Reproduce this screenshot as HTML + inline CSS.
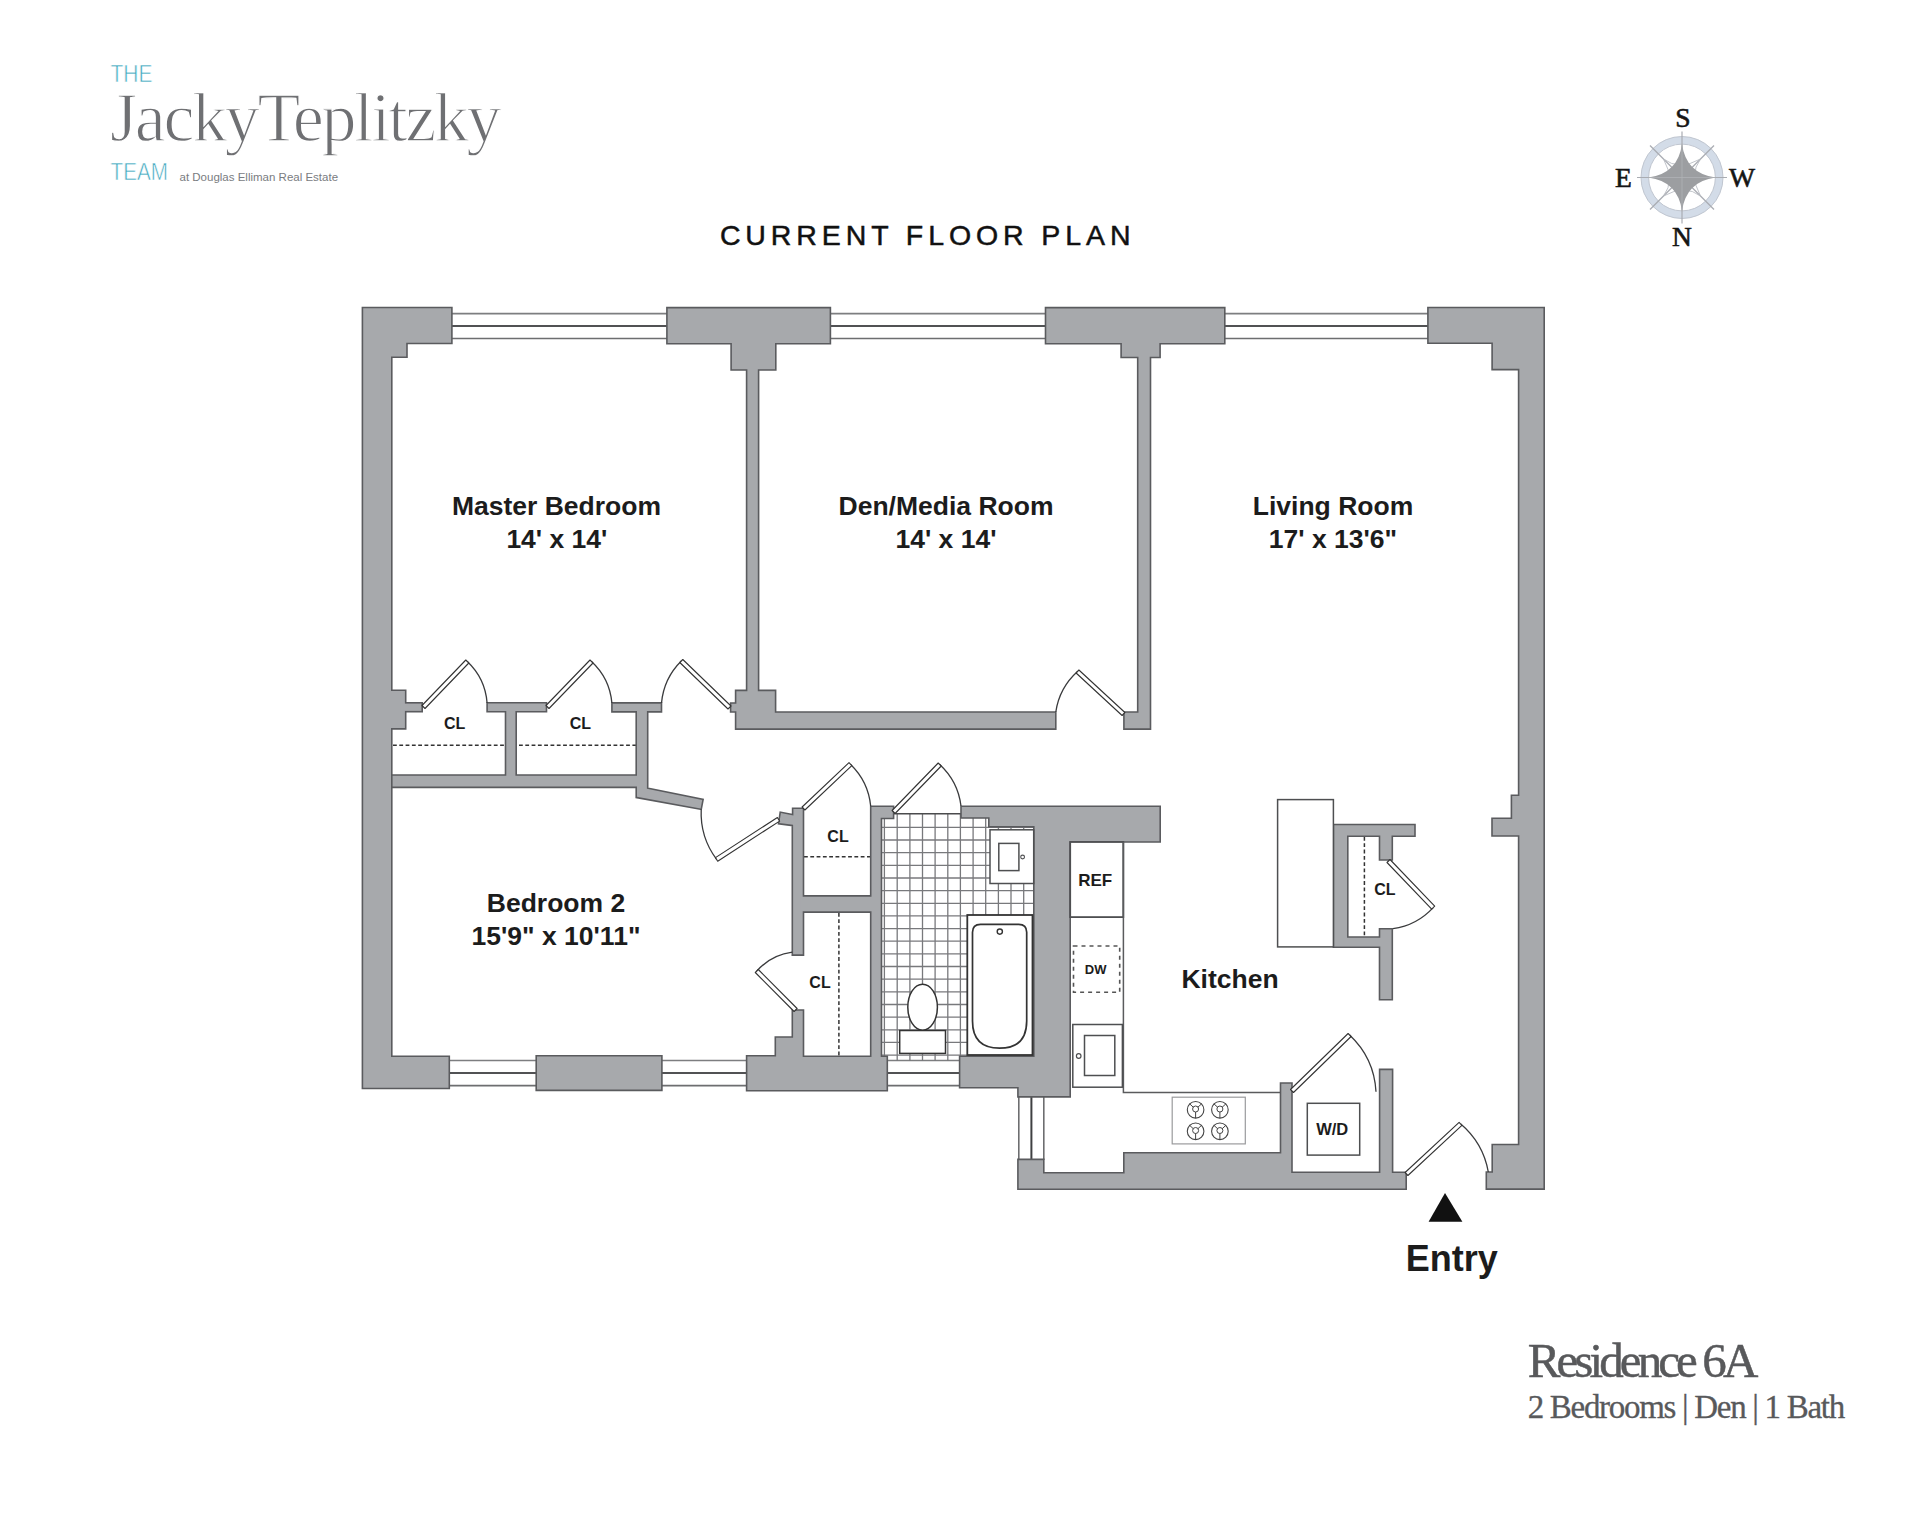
<!DOCTYPE html>
<html><head><meta charset="utf-8"><style>
html,body{margin:0;padding:0;background:#fff;}
body{width:1920px;height:1523px;position:relative;overflow:hidden;}
.t{position:absolute;white-space:nowrap;line-height:1;}

</style></head><body>
<svg width="1920" height="1523" viewBox="0 0 1920 1523" style="position:absolute;left:0;top:0">
<rect width="1920" height="1523" fill="#fff"/>
<line x1="450" y1="313.6" x2="668" y2="313.6" stroke="#7d7e80" stroke-width="1.6"/>
<line x1="450" y1="326.0" x2="668" y2="326.0" stroke="#515254" stroke-width="2"/>
<line x1="450" y1="338.5" x2="668" y2="338.5" stroke="#6d6e70" stroke-width="1.6"/>
<line x1="829" y1="313.6" x2="1047" y2="313.6" stroke="#7d7e80" stroke-width="1.6"/>
<line x1="829" y1="326.0" x2="1047" y2="326.0" stroke="#515254" stroke-width="2"/>
<line x1="829" y1="338.5" x2="1047" y2="338.5" stroke="#6d6e70" stroke-width="1.6"/>
<line x1="1223" y1="313.6" x2="1429" y2="313.6" stroke="#7d7e80" stroke-width="1.6"/>
<line x1="1223" y1="326.0" x2="1429" y2="326.0" stroke="#515254" stroke-width="2"/>
<line x1="1223" y1="338.5" x2="1429" y2="338.5" stroke="#6d6e70" stroke-width="1.6"/>
<line x1="448" y1="1060.5" x2="538" y2="1060.5" stroke="#7d7e80" stroke-width="1.6"/>
<line x1="448" y1="1072.9" x2="538" y2="1072.9" stroke="#515254" stroke-width="2"/>
<line x1="448" y1="1085.6" x2="538" y2="1085.6" stroke="#6d6e70" stroke-width="1.6"/>
<line x1="660" y1="1060.5" x2="748" y2="1060.5" stroke="#7d7e80" stroke-width="1.6"/>
<line x1="660" y1="1072.9" x2="748" y2="1072.9" stroke="#515254" stroke-width="2"/>
<line x1="660" y1="1085.6" x2="748" y2="1085.6" stroke="#6d6e70" stroke-width="1.6"/>
<line x1="886" y1="1060.5" x2="961" y2="1060.5" stroke="#7d7e80" stroke-width="1.6"/>
<line x1="886" y1="1072.9" x2="961" y2="1072.9" stroke="#515254" stroke-width="2"/>
<line x1="886" y1="1085.6" x2="961" y2="1085.6" stroke="#6d6e70" stroke-width="1.6"/>
<line x1="1018.8" y1="1095" x2="1018.8" y2="1160" stroke="#6d6e70" stroke-width="1.6"/>
<line x1="1031.4" y1="1095" x2="1031.4" y2="1160" stroke="#3f4042" stroke-width="2"/>
<line x1="1043.8" y1="1095" x2="1043.8" y2="1160" stroke="#6d6e70" stroke-width="1.6"/>
<clipPath id="tc"><polygon points="881.8,818.5 893.6,818.5 893.6,813.8 961.0,813.8 961.0,818.0 988.8,818.0 988.8,826.8 1033.7,826.8 1033.7,1056.0 959.6,1056.0 959.6,1061.0 887.3,1061.0 887.3,1056.0 881.8,1056.0"/></clipPath>
<g clip-path="url(#tc)" stroke="#78797c" stroke-width="1.3"><line x1="897.2" y1="800" x2="897.2" y2="1070"/><line x1="909.9" y1="800" x2="909.9" y2="1070"/><line x1="922.5" y1="800" x2="922.5" y2="1070"/><line x1="935.1" y1="800" x2="935.1" y2="1070"/><line x1="947.8" y1="800" x2="947.8" y2="1070"/><line x1="960.4" y1="800" x2="960.4" y2="1070"/><line x1="973.1" y1="800" x2="973.1" y2="1070"/><line x1="985.7" y1="800" x2="985.7" y2="1070"/><line x1="998.4" y1="800" x2="998.4" y2="1070"/><line x1="1011.0" y1="800" x2="1011.0" y2="1070"/><line x1="1023.7" y1="800" x2="1023.7" y2="1070"/><line x1="870" y1="827.4" x2="1040" y2="827.4"/><line x1="870" y1="840.0" x2="1040" y2="840.0"/><line x1="870" y1="852.7" x2="1040" y2="852.7"/><line x1="870" y1="865.3" x2="1040" y2="865.3"/><line x1="870" y1="878.0" x2="1040" y2="878.0"/><line x1="870" y1="890.6" x2="1040" y2="890.6"/><line x1="870" y1="903.3" x2="1040" y2="903.3"/><line x1="870" y1="915.9" x2="1040" y2="915.9"/><line x1="870" y1="928.6" x2="1040" y2="928.6"/><line x1="870" y1="941.2" x2="1040" y2="941.2"/><line x1="870" y1="953.9" x2="1040" y2="953.9"/><line x1="870" y1="966.5" x2="1040" y2="966.5"/><line x1="870" y1="979.2" x2="1040" y2="979.2"/><line x1="870" y1="991.8" x2="1040" y2="991.8"/><line x1="870" y1="1004.5" x2="1040" y2="1004.5"/><line x1="870" y1="1017.1" x2="1040" y2="1017.1"/><line x1="870" y1="1029.8" x2="1040" y2="1029.8"/><line x1="870" y1="1042.4" x2="1040" y2="1042.4"/><line x1="870" y1="1055.1" x2="1040" y2="1055.1"/><line x1="884.4" y1="800" x2="884.4" y2="1070"/></g>
<line x1="893.6" y1="813.8" x2="961" y2="813.8" stroke="#4a4b4d" stroke-width="1.6"/>
<line x1="393" y1="745.3" x2="636" y2="745.3" stroke="#333" stroke-width="1.5" stroke-dasharray="3.8,2.5"/>
<line x1="804" y1="856.8" x2="870" y2="856.8" stroke="#333" stroke-width="1.5" stroke-dasharray="3.8,2.5"/>
<line x1="838.9" y1="913" x2="838.9" y2="1056" stroke="#333" stroke-width="1.5" stroke-dasharray="3.8,2.5"/>
<line x1="1364.4" y1="837" x2="1364.4" y2="937" stroke="#333" stroke-width="1.5" stroke-dasharray="3.8,2.5"/>
<g fill="#a7a9ac" stroke="#5a5b5e" stroke-width="3.2" stroke-linejoin="miter"><polygon points="363.2,308.3 451.1,308.3 451.1,342.7 406.2,342.7 406.2,356.4 391.0,356.4 391.0,691.1 404.9,691.1 404.9,728.1 391.0,728.1 391.0,1057.0 448.5,1057.0 448.5,1087.7 363.2,1087.7"/><polygon points="667.7,308.4 829.6,308.4 829.6,342.9 775.0,342.9 775.0,369.2 757.8,369.2 757.8,691.2 774.8,691.2 774.8,712.8 1055.0,712.8 1055.0,728.3 736.4,728.3 736.4,711.2 731.4,711.2 731.4,703.8 736.4,703.8 736.4,691.2 747.4,691.2 747.4,369.2 731.9,369.2 731.9,342.9 667.7,342.9"/><polygon points="1046.3,308.4 1224.0,308.4 1224.0,342.9 1159.3,342.9 1159.3,356.7 1149.7,356.7 1149.7,728.3 1124.7,728.3 1124.7,712.8 1138.5,712.8 1138.5,356.7 1121.9,356.7 1121.9,342.9 1046.3,342.9"/><polygon points="1428.7,308.3 1543.4,308.3 1543.4,1188.3 1487.1,1188.3 1487.1,1172.8 1493.0,1172.8 1493.0,1145.3 1519.4,1145.3 1519.4,835.2 1492.8,835.2 1492.8,819.1 1512.2,819.1 1512.2,796.1 1519.4,796.1 1519.4,368.8 1492.9,368.8 1492.9,342.5 1428.7,342.5"/><polygon points="400.8,703.6 421.4,703.6 421.4,710.9 400.8,710.9"/><polygon points="487.9,703.6 545.7,703.6 545.7,710.9 515.4,710.9 515.4,779.2 506.3,779.2 506.3,710.9 487.9,710.9"/><polygon points="392.6,775.8 637.0,775.8 637.0,711.1 612.7,711.1 612.7,703.7 660.7,703.7 660.7,711.1 646.9,711.1 646.9,788.8 702.2,800.0 700.6,808.5 637.0,796.8 637.0,786.6 392.6,786.6"/><polygon points="537.0,1056.5 661.1,1056.5 661.1,1089.6 537.0,1089.6"/><polygon points="793.4,809.1 802.7,809.1 802.7,954.3 793.1,954.3 793.1,824.8 779.4,823.1 780.9,813.1 793.4,815.5"/><polygon points="800.8,896.7 874.2,896.7 874.2,911.3 800.8,911.3"/><polygon points="871.5,807.0 892.8,807.0 892.8,817.7 880.7,817.7 880.7,1059.2 871.5,1059.2"/><polygon points="747.4,1056.5 776.1,1056.5 776.1,1037.8 793.1,1037.8 793.1,1010.8 802.7,1010.8 802.7,1057.0 886.5,1057.0 886.5,1090.0 747.4,1090.0"/><polygon points="961.8,807.0 1159.4,807.0 1159.4,841.2 1069.4,841.2 1069.4,1096.1 1018.7,1096.1 1018.7,1087.0 960.4,1087.0 960.4,1057.1 1034.6,1057.1 1034.6,826.0 989.6,826.0 989.6,817.2 961.8,817.2"/><polygon points="1018.7,1160.2 1043.0,1160.2 1043.0,1173.6 1124.6,1173.6 1124.6,1153.6 1281.3,1153.6 1281.3,1083.8 1291.2,1083.8 1291.2,1173.1 1380.4,1173.1 1380.4,1070.2 1391.8,1070.2 1391.8,1173.1 1405.4,1173.1 1405.4,1188.4 1018.7,1188.4"/><polygon points="1334.2,825.3 1414.2,825.3 1414.2,835.4 1391.5,835.4 1391.5,859.2 1380.3,859.2 1380.3,835.4 1347.0,835.4 1347.0,937.8 1380.3,937.8 1380.3,929.5 1391.5,929.5 1391.5,998.9 1380.3,998.9 1380.3,946.5 1334.2,946.5"/></g>
<g fill="#a7a9ac"><polygon points="363.2,308.3 451.1,308.3 451.1,342.7 406.2,342.7 406.2,356.4 391.0,356.4 391.0,691.1 404.9,691.1 404.9,728.1 391.0,728.1 391.0,1057.0 448.5,1057.0 448.5,1087.7 363.2,1087.7"/><polygon points="667.7,308.4 829.6,308.4 829.6,342.9 775.0,342.9 775.0,369.2 757.8,369.2 757.8,691.2 774.8,691.2 774.8,712.8 1055.0,712.8 1055.0,728.3 736.4,728.3 736.4,711.2 731.4,711.2 731.4,703.8 736.4,703.8 736.4,691.2 747.4,691.2 747.4,369.2 731.9,369.2 731.9,342.9 667.7,342.9"/><polygon points="1046.3,308.4 1224.0,308.4 1224.0,342.9 1159.3,342.9 1159.3,356.7 1149.7,356.7 1149.7,728.3 1124.7,728.3 1124.7,712.8 1138.5,712.8 1138.5,356.7 1121.9,356.7 1121.9,342.9 1046.3,342.9"/><polygon points="1428.7,308.3 1543.4,308.3 1543.4,1188.3 1487.1,1188.3 1487.1,1172.8 1493.0,1172.8 1493.0,1145.3 1519.4,1145.3 1519.4,835.2 1492.8,835.2 1492.8,819.1 1512.2,819.1 1512.2,796.1 1519.4,796.1 1519.4,368.8 1492.9,368.8 1492.9,342.5 1428.7,342.5"/><polygon points="400.8,703.6 421.4,703.6 421.4,710.9 400.8,710.9"/><polygon points="487.9,703.6 545.7,703.6 545.7,710.9 515.4,710.9 515.4,779.2 506.3,779.2 506.3,710.9 487.9,710.9"/><polygon points="392.6,775.8 637.0,775.8 637.0,711.1 612.7,711.1 612.7,703.7 660.7,703.7 660.7,711.1 646.9,711.1 646.9,788.8 702.2,800.0 700.6,808.5 637.0,796.8 637.0,786.6 392.6,786.6"/><polygon points="537.0,1056.5 661.1,1056.5 661.1,1089.6 537.0,1089.6"/><polygon points="793.4,809.1 802.7,809.1 802.7,954.3 793.1,954.3 793.1,824.8 779.4,823.1 780.9,813.1 793.4,815.5"/><polygon points="800.8,896.7 874.2,896.7 874.2,911.3 800.8,911.3"/><polygon points="871.5,807.0 892.8,807.0 892.8,817.7 880.7,817.7 880.7,1059.2 871.5,1059.2"/><polygon points="747.4,1056.5 776.1,1056.5 776.1,1037.8 793.1,1037.8 793.1,1010.8 802.7,1010.8 802.7,1057.0 886.5,1057.0 886.5,1090.0 747.4,1090.0"/><polygon points="961.8,807.0 1159.4,807.0 1159.4,841.2 1069.4,841.2 1069.4,1096.1 1018.7,1096.1 1018.7,1087.0 960.4,1087.0 960.4,1057.1 1034.6,1057.1 1034.6,826.0 989.6,826.0 989.6,817.2 961.8,817.2"/><polygon points="1018.7,1160.2 1043.0,1160.2 1043.0,1173.6 1124.6,1173.6 1124.6,1153.6 1281.3,1153.6 1281.3,1083.8 1291.2,1083.8 1291.2,1173.1 1380.4,1173.1 1380.4,1070.2 1391.8,1070.2 1391.8,1173.1 1405.4,1173.1 1405.4,1188.4 1018.7,1188.4"/><polygon points="1334.2,825.3 1414.2,825.3 1414.2,835.4 1391.5,835.4 1391.5,859.2 1380.3,859.2 1380.3,835.4 1347.0,835.4 1347.0,937.8 1380.3,937.8 1380.3,929.5 1391.5,929.5 1391.5,998.9 1380.3,998.9 1380.3,946.5 1334.2,946.5"/></g>
<path d="M467.3,661.5 A63.7,63.7 0 0 1 487.1,703.0" fill="none" stroke="#3a3b3d" stroke-width="1.3"/>
<polygon points="425.0,708.5 468.8,663.0 465.8,660.0 422.0,705.5" fill="#fff" stroke="#333" stroke-width="1.1" stroke-linejoin="round"/>
<path d="M591.5,661.5 A64.5,64.5 0 0 1 611.9,703.0" fill="none" stroke="#3a3b3d" stroke-width="1.3"/>
<polygon points="549.0,708.5 593.0,663.0 590.0,660.0 546.0,705.5" fill="#fff" stroke="#333" stroke-width="1.1" stroke-linejoin="round"/>
<path d="M681.3,661.0 A68.1,68.1 0 0 0 661.5,703.0" fill="none" stroke="#3a3b3d" stroke-width="1.3"/>
<polygon points="731.0,706.0 682.8,659.5 679.8,662.5 728.0,709.0" fill="#fff" stroke="#333" stroke-width="1.1" stroke-linejoin="round"/>
<path d="M1077.5,671.5 A67.7,67.7 0 0 0 1055.8,712.0" fill="none" stroke="#3a3b3d" stroke-width="1.3"/>
<polygon points="1124.9,712.5 1078.9,670.0 1076.1,673.0 1122.1,715.5" fill="#fff" stroke="#333" stroke-width="1.1" stroke-linejoin="round"/>
<path d="M716.6,859.4 A77.9,77.9 0 0 1 701.2,809.4" fill="none" stroke="#3a3b3d" stroke-width="1.3"/>
<polygon points="777.4,817.5 715.5,857.6 717.7,861.2 779.6,821.1" fill="#fff" stroke="#333" stroke-width="1.1" stroke-linejoin="round"/>
<path d="M850.4,764.2 A67.2,67.2 0 0 1 870.7,806.2" fill="none" stroke="#3a3b3d" stroke-width="1.3"/>
<polygon points="804.9,810.0 851.8,765.7 849.0,762.7 802.1,807.0" fill="#fff" stroke="#333" stroke-width="1.1" stroke-linejoin="round"/>
<path d="M939.7,764.5 A67.7,67.7 0 0 1 961.0,806.0" fill="none" stroke="#3a3b3d" stroke-width="1.3"/>
<polygon points="895.1,813.5 941.2,766.0 938.2,763.0 892.1,810.5" fill="#fff" stroke="#333" stroke-width="1.1" stroke-linejoin="round"/>
<path d="M756.8,971.0 A57.9,57.9 0 0 1 792.3,952.2" fill="none" stroke="#3a3b3d" stroke-width="1.3"/>
<polygon points="797.1,1008.5 758.3,969.5 755.3,972.5 794.1,1011.5" fill="#fff" stroke="#333" stroke-width="1.1" stroke-linejoin="round"/>
<path d="M1433.2,907.6 A67.8,67.8 0 0 1 1393.0,928.7" fill="none" stroke="#3a3b3d" stroke-width="1.3"/>
<polygon points="1387.0,862.5 1431.7,909.1 1434.7,906.1 1390.0,859.5" fill="#fff" stroke="#333" stroke-width="1.1" stroke-linejoin="round"/>
<path d="M1349.6,1035.0 A84.0,84.0 0 0 1 1376.0,1091.8" fill="none" stroke="#3a3b3d" stroke-width="1.3"/>
<polygon points="1293.5,1092.5 1351.1,1036.5 1348.1,1033.5 1290.5,1089.5" fill="#fff" stroke="#333" stroke-width="1.1" stroke-linejoin="round"/>
<path d="M1460.5,1123.8 A81.8,81.8 0 0 1 1488.3,1172.0" fill="none" stroke="#3a3b3d" stroke-width="1.3"/>
<polygon points="1407.9,1175.5 1461.9,1125.3 1459.1,1122.3 1405.1,1172.5" fill="#fff" stroke="#333" stroke-width="1.1" stroke-linejoin="round"/>
<rect x="1277.6" y="799.6" width="55.8" height="147.3" fill="#fff" stroke="#4e4f51" stroke-width="1.5"/>
<rect x="1070.2" y="842" width="53.1" height="75.1" fill="#fff" stroke="#4e4f51" stroke-width="1.8"/>
<polyline points="1123.4,842 1123.4,1092.4 1280.5,1092.4" fill="none" stroke="#5a5b5d" stroke-width="1.5"/>
<rect x="1073.5" y="946" width="46.2" height="46.2" fill="none" stroke="#555" stroke-width="1.6" stroke-dasharray="4,4"/>
<rect x="1072.8" y="1024.5" width="49.6" height="62.7" fill="#fff" stroke="#4e4f51" stroke-width="1.5"/>
<rect x="1084.5" y="1035.5" width="30.3" height="40" fill="#fff" stroke="#4e4f51" stroke-width="1.5"/>
<circle cx="1078.7" cy="1056" r="2.3" fill="#fff" stroke="#4e4f51" stroke-width="1.2"/>
<rect x="1172.2" y="1097.2" width="73.1" height="46.7" fill="#fff" stroke="#9a9b9d" stroke-width="1.2"/>
<circle cx="1195.6" cy="1109.8" r="8.3" fill="none" stroke="#444" stroke-width="1.1"/>
<circle cx="1195.6" cy="1109.0" r="3" fill="none" stroke="#444" stroke-width="1"/>
<path d="M1189.6,1103.8 L1193.3999999999999,1107.3 M1201.6,1103.8 L1197.8,1107.3 M1195.6,1112.0 L1195.6,1118.1" stroke="#444" stroke-width="1"/>
<circle cx="1219.9" cy="1109.8" r="8.3" fill="none" stroke="#444" stroke-width="1.1"/>
<circle cx="1219.9" cy="1109.0" r="3" fill="none" stroke="#444" stroke-width="1"/>
<path d="M1213.9,1103.8 L1217.7,1107.3 M1225.9,1103.8 L1222.1000000000001,1107.3 M1219.9,1112.0 L1219.9,1118.1" stroke="#444" stroke-width="1"/>
<circle cx="1195.6" cy="1131.3" r="8.3" fill="none" stroke="#444" stroke-width="1.1"/>
<circle cx="1195.6" cy="1130.5" r="3" fill="none" stroke="#444" stroke-width="1"/>
<path d="M1189.6,1125.3 L1193.3999999999999,1128.8 M1201.6,1125.3 L1197.8,1128.8 M1195.6,1133.5 L1195.6,1139.6" stroke="#444" stroke-width="1"/>
<circle cx="1219.9" cy="1131.3" r="8.3" fill="none" stroke="#444" stroke-width="1.1"/>
<circle cx="1219.9" cy="1130.5" r="3" fill="none" stroke="#444" stroke-width="1"/>
<path d="M1213.9,1125.3 L1217.7,1128.8 M1225.9,1125.3 L1222.1000000000001,1128.8 M1219.9,1133.5 L1219.9,1139.6" stroke="#444" stroke-width="1"/>
<rect x="1307.3" y="1103.3" width="52.4" height="51.8" fill="#fff" stroke="#4e4f51" stroke-width="1.5"/>
<rect x="990" y="829.8" width="43.7" height="53.7" fill="#fff" stroke="#4e4f51" stroke-width="1.5"/>
<rect x="998.8" y="843.4" width="20.1" height="27.2" fill="#fff" stroke="#4e4f51" stroke-width="1.5"/>
<circle cx="1022.6" cy="857" r="1.9" fill="#fff" stroke="#4e4f51" stroke-width="1.1"/>
<rect x="967.3" y="915" width="65.2" height="140" fill="#fff" stroke="#333" stroke-width="1.8"/>
<path d="M972.5,1021 L972.5,932.3 Q972.5,924.3 980.5,924.3 L1018.7,924.3 Q1026.7,924.3 1026.7,932.3 L1026.7,1021 Q1026.7,1048.2 999.6,1048.2 Q972.5,1048.2 972.5,1021 Z" fill="#fff" stroke="#333" stroke-width="1.7"/>
<circle cx="999.8" cy="931.6" r="2.6" fill="#fff" stroke="#333" stroke-width="1.4"/>
<ellipse cx="922.6" cy="1007.2" rx="14.8" ry="23" fill="#fff" stroke="#333" stroke-width="1.5"/>
<rect x="899.7" y="1030.5" width="45.8" height="22.9" fill="#fff" stroke="#333" stroke-width="1.5"/>
<circle cx="1682" cy="177.5" r="37.2" fill="none" stroke="#d3dce8" stroke-width="7.6"/>
<circle cx="1682" cy="177.5" r="41" fill="none" stroke="#c0c6d0" stroke-width="1"/>
<circle cx="1682" cy="177.5" r="33.4" fill="none" stroke="#c0c6d0" stroke-width="1"/>
<g stroke="#a9acb2" stroke-width="1.2"><line x1="1682" y1="131.5" x2="1682" y2="223.5"/><line x1="1637" y1="177.5" x2="1727" y2="177.5"/><line x1="1650" y1="145.5" x2="1714" y2="209.5"/><line x1="1714" y1="145.5" x2="1650" y2="209.5"/></g>
<path d="M1663.5,159.0 Q1679,170.9 1700.5,159.0 Q1688.6,174.5 1700.5,196.0 Q1685,184.1 1663.5,196.0 Q1675.4,180.5 1663.5,159.0 Z" fill="none" stroke="#b9bcc3" stroke-width="0.9"/>
<path d="M1682,144.0 Q1686,173.5 1715.5,177.5 Q1686,181.5 1682,211.0 Q1678,181.5 1648.5,177.5 Q1678,173.5 1682,144.0 Z" fill="#9c9ea1"/>
<line x1="1682" y1="144.0" x2="1682" y2="211.0" stroke="#b0b2b6" stroke-width="0.8"/>
<line x1="1648.5" y1="177.5" x2="1715.5" y2="177.5" stroke="#b0b2b6" stroke-width="0.8"/>
<g font-family="Liberation Serif, serif" fill="#151515" stroke="#151515" stroke-width="0.6" font-size="27.5" text-anchor="middle">
<text x="1683" y="126.8">S</text>
<text x="1623.5" y="187">E</text>
<text x="1742" y="187">W</text>
<text x="1682" y="246.3">N</text>
</g>
<g font-family="Liberation Sans, sans-serif" font-weight="bold" fill="#1c1c1c" text-anchor="middle">
<text x="556.5" y="514.8" font-size="26.5">Master Bedroom</text>
<text x="556.9" y="547.5" font-size="26.5">14' x 14'</text>
<text x="946" y="514.8" font-size="26.5">Den/Media Room</text>
<text x="946" y="547.5" font-size="26.5">14' x 14'</text>
<text x="1333" y="514.8" font-size="26.5">Living Room</text>
<text x="1333" y="547.5" font-size="26.5">17' x 13'6"</text>
<text x="556" y="911.5" font-size="26.5">Bedroom 2</text>
<text x="556" y="944.5" font-size="26.5">15'9" x 10'11"</text>
<text x="1230" y="988" font-size="26.5">Kitchen</text>
<text x="454.7" y="728.5" font-size="16">CL</text>
<text x="580.3" y="728.7" font-size="16">CL</text>
<text x="838" y="841.7" font-size="16">CL</text>
<text x="820" y="988.3" font-size="16">CL</text>
<text x="1384.8" y="895" font-size="16">CL</text>
<text x="1095.2" y="886" font-size="17">REF</text>
<text x="1095.7" y="974.2" font-size="13">DW</text>
<text x="1332.2" y="1134.8" font-size="16.5">W/D</text>
<text x="1451.8" y="1270.5" font-size="36">Entry</text>
</g>
<polygon points="1445,1193 1428.6,1221.7 1462.4,1221.7" fill="#111"/>
<g font-family="Liberation Sans, sans-serif" fill="#111">
<text x="719.9" y="244.5" font-size="28.5" letter-spacing="4.9" stroke="#111" stroke-width="0.5">CURRENT FLOOR PLAN</text>
</g>
<g font-family="Liberation Sans, sans-serif" fill="#46aabf" stroke="#fff" stroke-width="0.6">
<text x="110.5" y="81.7" font-size="23.5" textLength="42" lengthAdjust="spacingAndGlyphs">THE</text>
<text x="110.5" y="180.3" font-size="23.5" textLength="57.5" lengthAdjust="spacingAndGlyphs">TEAM</text>
</g>
<text x="179.5" y="180.5" font-family="Liberation Sans, sans-serif" font-size="11.5" fill="#7a7c7f">at Douglas Elliman Real Estate</text>
<text x="110" y="141.2" font-family="Liberation Serif, serif" font-size="70" fill="#6f7073" letter-spacing="-2.4" stroke="#fff" stroke-width="1.3">JackyTeplitzky</text>
<g font-family="Liberation Serif, serif" fill="#58595b">
<text x="1527.7" y="1377.2" font-size="49" letter-spacing="-3.9" stroke="#58595b" stroke-width="0.5">Residence 6A</text>
<text x="1527.7" y="1417.5" font-size="33" letter-spacing="-1.3" stroke="#58595b" stroke-width="0.3">2 Bedrooms | Den | 1 Bath</text>
</g>
</svg>
</body></html>
